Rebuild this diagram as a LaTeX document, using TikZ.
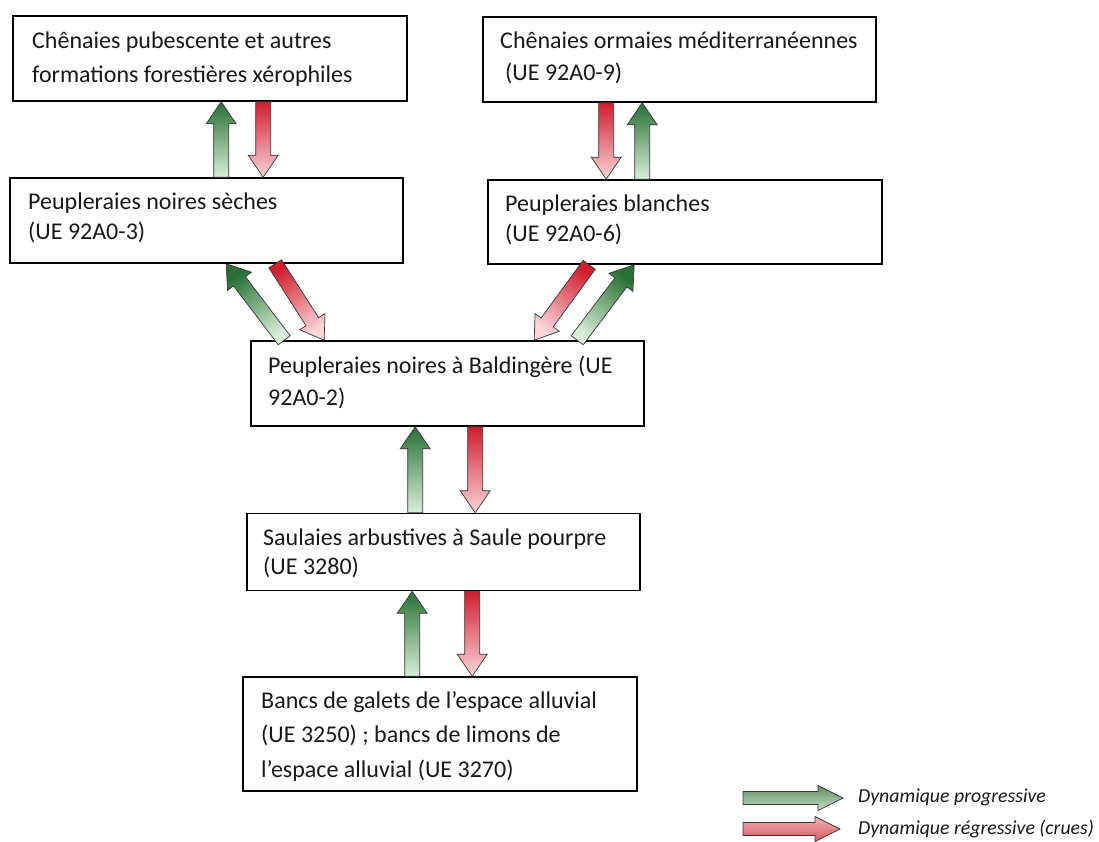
\documentclass[tikz,border=0pt]{standalone}
\usepackage{fontspec}
\setmainfont{Carlito}
\usetikzlibrary{calc}

\definecolor{progdark}{RGB}{40,112,52}
\definecolor{proglight}{RGB}{216,238,216}
\definecolor{regdark}{RGB}{208,30,46}
\definecolor{reglight}{RGB}{250,212,216}
\definecolor{arrowedge}{RGB}{55,55,55}
\definecolor{inktext}{RGB}{25,25,25}
\definecolor{legprogtop}{RGB}{92,140,96}
\definecolor{legprogbot}{RGB}{196,224,196}
\definecolor{legregtop}{RGB}{242,178,184}
\definecolor{legregbot}{RGB}{214,84,96}

% block arrow from tail coordinate #1 to tip coordinate #2, drawn with options #3
\newcommand\halfshaft{7.5pt}
\newcommand\halfhead{15pt}
\newcommand\headlen{22pt}
\newcommand\blockarrow[3]{%
  \coordinate (#1-hb) at ($(#2)!\headlen!(#1)$);
  \shadedraw[#3]
    ($(#1)!\halfshaft!90:(#2)$) -- ($(#1-hb)!\halfshaft!90:(#2)$) --
    ($(#1-hb)!\halfhead!90:(#2)$) -- (#2) --
    ($(#1-hb)!\halfhead!-90:(#2)$) -- ($(#1-hb)!\halfshaft!-90:(#2)$) --
    ($(#1)!\halfshaft!-90:(#2)$) -- cycle;
}
% gradient arrow: colour #3 at the tail, colour #4 at the head
\newcommand\dynarrow[4]{%
  \pgfmathanglebetweenpoints{\pgfpointanchor{#1}{center}}{\pgfpointanchor{#2}{center}}%
  \pgfmathsetmacro\shadeang{\pgfmathresult-90}%
  \blockarrow{#1}{#2}{draw=arrowedge, line width=0.7pt, line join=miter,
    bottom color=#3, top color=#4, shading angle=\shadeang}%
}

\begin{document}
\begin{tikzpicture}[x=1pt, y=-1pt,
  habitat/.style={draw=black, line width=1.6pt, fill=white, inner sep=0pt},
  boxtext/.style={anchor=base west, inner sep=0pt, text=inktext,
    font=\fontsize{24}{34}\selectfont},
  legtext/.style={anchor=base west, inner sep=0pt, text=inktext,
    font=\fontsize{19.8}{24}\selectfont\itshape}]

\useasboundingbox[fill=white] (0,0) rectangle (1099,841);

% habitat boxes
\node[habitat, minimum width=394pt, minimum height=85pt] (b1) at (210,58.5) {};
\node[habitat, minimum width=393pt, minimum height=85pt] (b2) at (679.5,59.5) {};
\node[habitat, minimum width=393pt, minimum height=85pt] (b3) at (206.5,220.5) {};
\node[habitat, minimum width=394pt, minimum height=84pt] (b4) at (685,222) {};
\node[habitat, minimum width=393pt, minimum height=85pt] (b5) at (447.5,383.5) {};
\node[habitat, minimum width=393pt, minimum height=77pt] (b6) at (443.5,552) {};
\node[habitat, minimum width=394pt, minimum height=114pt] (b7) at (440,734) {};

% box texts
\node[boxtext] (t1) at (32,48) {\vtop{\baselineskip=34pt
  \hbox{Chênaies pubescente et autres}\hbox{formations forestières xérophiles}}};
\node[boxtext] (t2) at (500,48) {\vtop{\baselineskip=32pt
  \hbox{Chênaies ormaies méditerranéennes}\hbox{\kern5pt(UE 92A0-9)}}};
\node[boxtext] (t3) at (28,209) {\vtop{\baselineskip=30pt
  \hbox{Peupleraies noires sèches}\hbox{(UE 92A0-3)}}};
\node[boxtext] (t4) at (505,211) {\vtop{\baselineskip=30pt
  \hbox{Peupleraies blanches}\hbox{(UE 92A0-6)}}};
\node[boxtext] (t5) at (268,373) {\vtop{\baselineskip=32pt
  \hbox{Peupleraies noires à Baldingère (UE}\hbox{92A0-2)}}};
\node[boxtext] (t6) at (263,545) {\vtop{\baselineskip=29pt
  \hbox{Saulaies arbustives à Saule pourpre}\hbox{(UE 3280)}}};
\node[boxtext] (t7) at (261,708) {\vtop{\baselineskip=34.5pt
  \hbox{Bancs de galets de l’espace alluvial}\hbox{(UE 3250) ; bancs de limons de}
  \hbox{l’espace alluvial (UE 3270)}}};

% arrow end points on the box borders
\coordinate (g13t) at ($(b3.north west)+(212,0)$);
\coordinate (g13h) at ($(b1.south west)+(209,0)$);
\coordinate (r13t) at ($(b1.south west)+(251,0)$);
\coordinate (r13h) at ($(b3.north west)+(254,0)$);
\coordinate (r24t) at ($(b2.south west)+(124,0)$);
\coordinate (r24h) at ($(b4.north west)+(119,0)$);
\coordinate (g24t) at ($(b4.north west)+(155,0)$);
\coordinate (g24h) at ($(b2.south west)+(160,0)$);
\coordinate (g35t) at ($(b5.north west)+(34,0)$);
\coordinate (g35h) at ($(b3.south west)+(217,0)$);
\coordinate (r35t) at ($(b3.south west)+(266,0)$);
\coordinate (r35h) at ($(b5.north west)+(74,0)$);
\coordinate (r45t) at ($(b4.south west)+(102,0)$);
\coordinate (r45h) at ($(b5.north west)+(284,0)$);
\coordinate (g45t) at ($(b5.north west)+(327,0)$);
\coordinate (g45h) at ($(b4.south west)+(147,0)$);
\coordinate (g56t) at ($(b6.north west)+(169,0)$);
\coordinate (g56h) at ($(b5.south west)+(165,0)$);
\coordinate (r56t) at ($(b5.south west)+(225,0)$);
\coordinate (r56h) at ($(b6.north west)+(229,0)$);
\coordinate (g67t) at ($(b7.north west)+(170,0)$);
\coordinate (g67h) at ($(b6.south west)+(166,0)$);
\coordinate (r67t) at ($(b6.south west)+(226,0)$);
\coordinate (r67h) at ($(b7.north west)+(230,0)$);

% progressive (green) and regressive (red) dynamics
\dynarrow{g13t}{g13h}{proglight}{progdark}
\dynarrow{r13t}{r13h}{regdark}{reglight}
\dynarrow{r24t}{r24h}{regdark}{reglight}
\dynarrow{g24t}{g24h}{proglight}{progdark}
\dynarrow{g35t}{g35h}{proglight}{progdark}
\dynarrow{r35t}{r35h}{regdark}{reglight}
\dynarrow{r45t}{r45h}{regdark}{reglight}
\dynarrow{g45t}{g45h}{proglight}{progdark}
\dynarrow{g56t}{g56h}{proglight}{progdark}
\dynarrow{r56t}{r56h}{regdark}{reglight}
\dynarrow{g67t}{g67h}{proglight}{progdark}
\dynarrow{r67t}{r67h}{regdark}{reglight}

% legend
\coordinate (lgt) at (743,798);
\coordinate (lgh) at (843,798);
\coordinate (lrt) at (743,829);
\coordinate (lrh) at (840,829);
\begin{scope}
  \renewcommand\halfshaft{6.5pt}
  \renewcommand\halfhead{12.5pt}
  \renewcommand\headlen{25pt}
  \blockarrow{lgt}{lgh}{draw=arrowedge, line width=0.7pt, top color=legprogtop, bottom color=legprogbot}
  \blockarrow{lrt}{lrh}{draw=arrowedge, line width=0.7pt, top color=legregtop, bottom color=legregbot}
\end{scope}
\node[legtext] (l1) at (858,802) {Dynamique progressive};
\node[legtext] (l2) at (858,834) {Dynamique régressive (crues)};

\end{tikzpicture}
\end{document}
